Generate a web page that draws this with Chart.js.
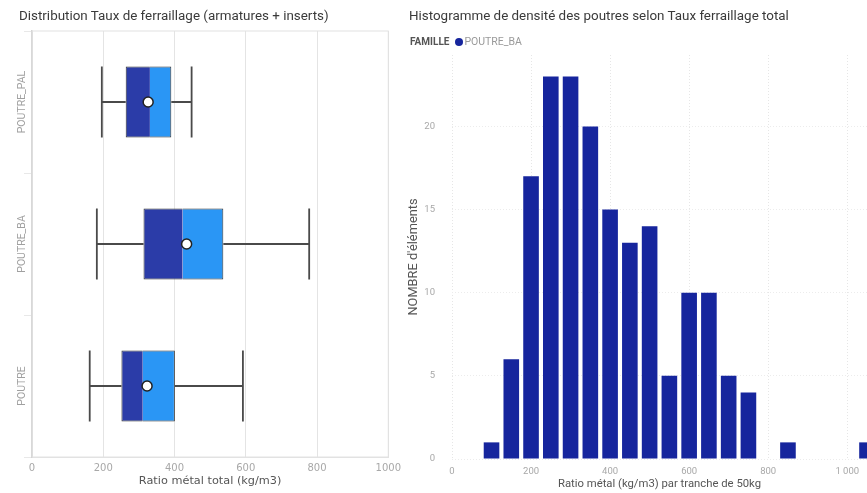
<!DOCTYPE html>
<html>
<head>
<meta charset="utf-8">
<script src="https://cdn.jsdelivr.net/npm/chart.js@4.4.1/dist/chart.umd.min.js"></script>
<style>
  html, body { margin: 0; padding: 0; background: #fff; }
  body { width: 867px; height: 493px; position: relative; overflow: hidden; font-family: Roboto, sans-serif; }
  .panel { position: absolute; top: 0; height: 493px; }
  #left { left: 0; width: 406px; }
  #right { left: 400px; width: 467px; }
  .title { position: absolute; top: 8px; font-size: 13.4px; color: #3a3a3a; white-space: nowrap; z-index: 2; }
  #titleLeft { left: 19px; }
  #titleRight { left: 409px; }
  #legend { position: absolute; left: 410px; top: 35px; font-size: 10.5px; white-space: nowrap; z-index: 2; }
  #legend b { color: #555; margin-right: 6px; font-size: 10px; }
  #legend .dot { display: inline-block; width: 8px; height: 8px; border-radius: 50%; background: #16259d; vertical-align: -1px; margin-right: 1px; }
  #legend .lbl { color: #9a9a9a; }
</style>
</head>
<body>
<div class="title" id="titleLeft">Distribution Taux de ferraillage (armatures + inserts)</div>
<div class="title" id="titleRight">Histogramme de densité des poutres selon Taux ferraillage total</div>
<div id="legend"><b>FAMILLE</b><span class="dot"></span><span class="lbl">POUTRE_BA</span></div>
<div class="panel" id="left"><canvas id="boxChart"></canvas></div>
<div class="panel" id="right"><canvas id="histChart"></canvas></div>
<script>
// boxplot stats per famille (kg/m3)
const categories = ['POUTRE_PAL', 'POUTRE_BA', 'POUTRE'];
const whiskerMin = [196, 182, 162];
const q1 = [263, 313, 251];
const medians = [331, 423, 311];
const q3 = [391, 537, 401];
const whiskerMax = [448, 778, 592];
const means = [326, 434, 323];

// histogram POUTRE_BA, tranches de 50kg
const binCenters = [100, 150, 200, 250, 300, 350, 400, 450, 500, 550, 600, 650, 700, 750, 800, 850, 900, 950, 1000, 1050];
const binCounts = [1, 6, 17, 23, 23, 20, 15, 13, 14, 5, 10, 10, 5, 4, 0, 1, 0, 0, 0, 1];

const darkBlue = '#2b3ca8';
const lightBlue = '#2a96f5';
const histBlue = '#16259d';
const tickGrey = '#a8a8a8';

const boxExtras = {
    id: 'boxExtras',
    beforeDatasetsDraw(chart) {
        const { ctx, chartArea, scales: { x, y } } = chart;
        // frame around plot
        ctx.save();
        ctx.strokeStyle = '#e2e2e2';
        ctx.lineWidth = 1;
        ctx.strokeRect(chartArea.left, chartArea.top, chartArea.right - chartArea.left, chartArea.bottom - chartArea.top);
        // whiskers
        const meta = chart.getDatasetMeta(0);
        ctx.strokeStyle = '#4a4a4a';
        ctx.lineWidth = 1.8;
        categories.forEach((c, i) => {
            const cy = y.getPixelForValue(i);
            const half = meta.data[i].height / 2;
            const x0 = x.getPixelForValue(whiskerMin[i]);
            const x1 = x.getPixelForValue(q1[i]);
            const x2 = x.getPixelForValue(q3[i]);
            const x3 = x.getPixelForValue(whiskerMax[i]);
            ctx.beginPath();
            ctx.moveTo(x0, cy); ctx.lineTo(x1, cy);
            ctx.moveTo(x2, cy); ctx.lineTo(x3, cy);
            ctx.moveTo(x0, cy - half); ctx.lineTo(x0, cy + half);
            ctx.moveTo(x3, cy - half); ctx.lineTo(x3, cy + half);
            ctx.stroke();
        });
        ctx.restore();
    },
    afterDraw(chart) {
        // rotated category labels
        const { ctx, chartArea, scales: { y } } = chart;
        ctx.save();
        ctx.fillStyle = '#a0a0a0';
        ctx.font = '10.5px Roboto';
        ctx.textAlign = 'center';
        ctx.textBaseline = 'middle';
        categories.forEach((c, i) => {
            ctx.save();
            ctx.translate(chartArea.left - 10, y.getPixelForValue(i));
            ctx.rotate(-Math.PI / 2);
            ctx.fillText(c, 0, 0);
            ctx.restore();
        });
        ctx.restore();
    }
};

new Chart(document.getElementById('boxChart'), {
    type: 'bar',
    data: {
        labels: categories,
        datasets: [
            {
                label: 'Q1-Médiane',
                data: categories.map((c, i) => [q1[i], medians[i]]),
                backgroundColor: darkBlue,
                borderColor: '#333',
                borderWidth: 1,
                borderSkipped: 'end',
                grouped: false,
                barPercentage: 0.5,
                categoryPercentage: 1,
            },
            {
                label: 'Médiane-Q3',
                data: categories.map((c, i) => [medians[i], q3[i]]),
                backgroundColor: lightBlue,
                borderColor: '#333',
                borderWidth: 1,
                borderSkipped: 'start',
                grouped: false,
                barPercentage: 0.5,
                categoryPercentage: 1,
            },
            {
                type: 'line',
                label: 'Moyenne',
                indexAxis: 'y',
                data: categories.map((c, i) => ({ x: means[i], y: c })),
                showLine: false,
                pointRadius: 5,
                pointBackgroundColor: '#fff',
                pointBorderColor: '#222',
                pointBorderWidth: 1.5,
                order: -1,
            },
        ],
    },
    options: {
        indexAxis: 'y',
        responsive: true,
        maintainAspectRatio: false,
        animation: false,
        layout: { padding: { top: 31, right: 6, left: 0, bottom: 0 } },
        plugins: { legend: { display: false }, tooltip: { enabled: false } },
        scales: {
            x: {
                type: 'linear',
                min: 0,
                max: 1000,
                afterFit: (s) => { s.height = 36; },
                ticks: { stepSize: 200, color: tickGrey, padding: 5, font: { family: 'DejaVu Sans', size: 10 }, callback: (v) => String(v) },
                grid: { color: '#e4e4e4', drawTicks: false },
                border: { color: '#e2e2e2' },
                title: { display: true, text: 'Ratio métal total (kg/m3)', color: '#555', font: { family: 'DejaVu Sans', size: 11.3 }, padding: { top: 0, bottom: 5 } },
            },
            y: {
                afterFit: (s) => { s.width = 32; },
                ticks: { display: false },
                grid: { drawOnChartArea: false, tickLength: 8, color: '#e8e8e8' },
                border: { color: '#cfcfcf', width: 1.5 },
            },
        },
    },
    plugins: [boxExtras],
});

const fmtThousands = (v) => String(v).replace(/\B(?=(\d{3})+(?!\d))/g, ' ');

new Chart(document.getElementById('histChart'), {
    type: 'bar',
    data: {
        datasets: [{
            label: 'POUTRE_BA',
            data: binCenters.map((b, i) => ({ x: b, y: binCounts[i] })),
            backgroundColor: histBlue,
            barPercentage: 0.79,
            categoryPercentage: 1,
        }],
    },
    options: {
        responsive: true,
        maintainAspectRatio: false,
        animation: false,
        layout: { padding: { top: 55, right: 0, left: 0, bottom: 0 } },
        plugins: { legend: { display: false }, tooltip: { enabled: false } },
        scales: {
            x: {
                type: 'linear',
                min: 0,
                max: 1050,
                offset: false,
                afterFit: (s) => { s.height = 34; },
                ticks: { stepSize: 200, includeBounds: false, color: tickGrey, padding: 7, font: { family: 'Roboto', size: 9.5 }, callback: fmtThousands },
                grid: { offset: false, color: '#e6e6e6', drawTicks: false },
                border: { display: false, dash: [1, 2] },
                title: { display: true, text: 'Ratio métal (kg/m3) par tranche de 50kg', color: '#555', font: { family: 'Roboto', size: 11.3 }, padding: { top: 0, bottom: 2 } },
            },
            y: {
                min: 0,
                max: 24.3,
                afterFit: (s) => { s.width = 52; },
                ticks: { stepSize: 5, includeBounds: false, color: tickGrey, padding: 17, font: { family: 'Roboto', size: 9.5 } },
                grid: { color: '#ececec', drawTicks: false },
                border: { display: false, dash: [1, 2] },
                title: { display: true, text: "NOMBRE d'éléments", color: '#555', font: { family: 'Roboto', size: 12.8 }, padding: { top: 6, bottom: 0 } },
            },
        },
    },
});
</script>
</body>
</html>
